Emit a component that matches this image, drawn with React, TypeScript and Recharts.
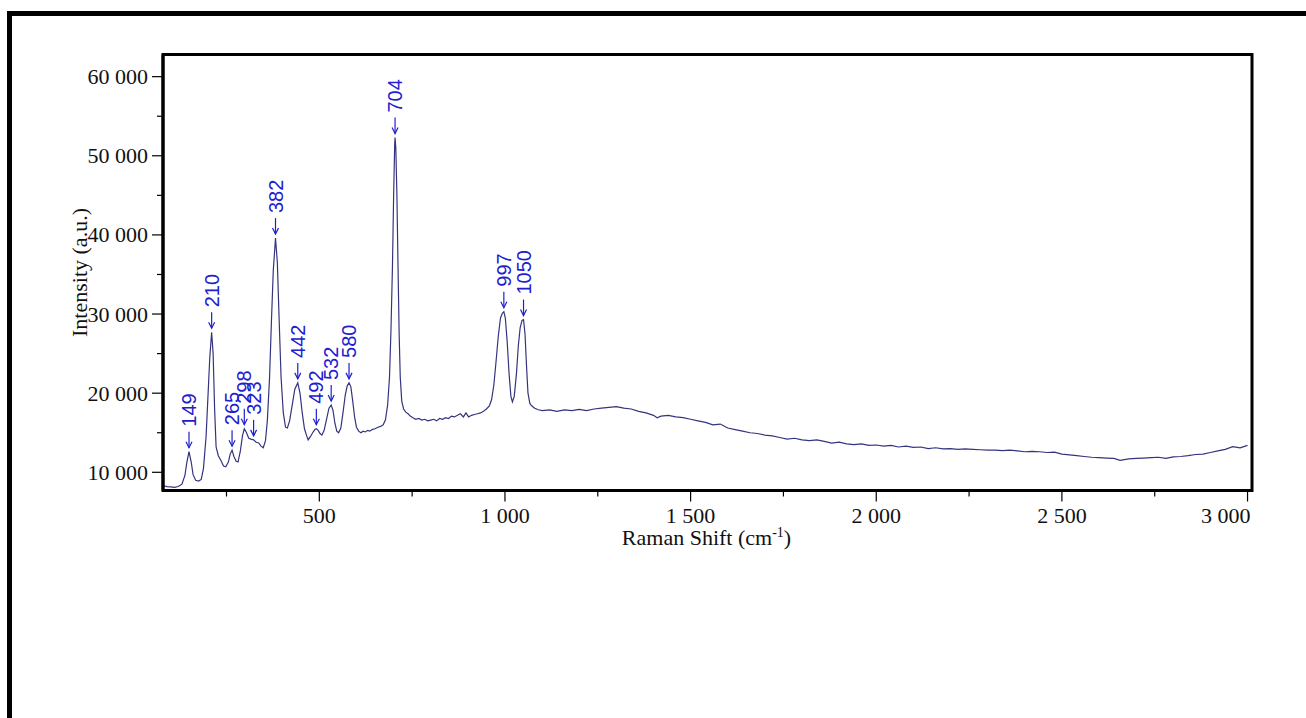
import React from 'react';
import { LineChart, Line, XAxis, YAxis, ReferenceDot, ReferenceArea } from 'recharts';

// Raman spectrum, [shift (cm-1), intensity (a.u.)]
const lowShiftBand: [number, number][] = [
  [80, 8300], [90, 8200], [100, 8150], [110, 8100], [120, 8200], [130, 8500], [138, 9600],
  [143, 11200], [149, 12600], [155, 11300], [160, 9700], [167, 9000], [175, 8900], [182, 9100],
  [188, 10500], [195, 14500], [200, 19500], [205, 24500], [210, 27700], [214, 25000], [218, 18000],
  [222, 13200], [228, 12100], [235, 11500], [242, 10800], [248, 10700], [255, 11300], [260, 12300],
  [265, 12800], [270, 12000], [276, 11400], [281, 11300], [287, 12600], [293, 14600], [298, 15500],
  [303, 15100], [310, 14300], [316, 14200], [323, 14100], [330, 13800], [337, 13700], [343, 13300],
  [349, 13100], [355, 14000], [360, 16500], [366, 22000], [371, 29000], [376, 35500], [382, 39600],
  [387, 36500], [392, 29000], [397, 22000],
];

const midShiftBand: [number, number][] = [
  [403, 17500], [409, 15700], [414, 15600], [420, 16500], [427, 18500], [434, 20500], [442, 21300],
  [448, 20000], [454, 17500], [460, 15500], [466, 14600], [470, 14100], [476, 14500], [482, 15000],
  [488, 15400], [492, 15500], [497, 15300], [502, 14900], [507, 14700], [513, 15300], [520, 16800],
  [526, 18100], [532, 18500], [537, 17800], [542, 16200], [547, 15200], [552, 15000], [558, 15600],
  [564, 17600], [570, 19800], [575, 20900], [580, 21300], [585, 20800], [590, 19000], [595, 17000],
  [600, 15700], [606, 15200], [612, 15000], [618, 15200], [624, 15100], [630, 15300], [636, 15200],
  [642, 15400], [650, 15500], [658, 15700], [665, 15800], [672, 16000], [678, 16600], [684, 18500],
  [689, 22000], [693, 28000], [697, 36000], [700, 44500], [703, 51500], [704, 52300], [706, 51000],
  [709, 45000], [712, 36000], [715, 27500], [718, 22000], [722, 19000], [727, 18000], [733, 17600],
  [739, 17400], [745, 17100], [752, 16900],
];

const phosphateBand: [number, number][] = [
  [760, 16700], [768, 16800], [776, 16600], [784, 16700], [792, 16500], [800, 16600], [808, 16700],
  [816, 16500], [824, 16800], [832, 16700], [840, 16900], [848, 16800], [856, 17100], [864, 17000],
  [872, 17200], [880, 17400], [888, 17000], [895, 17500], [902, 17000], [910, 17200], [918, 17300],
  [926, 17400], [934, 17500], [942, 17700], [950, 18000], [958, 18400], [964, 19200], [970, 21000],
  [976, 24000], [982, 27200], [988, 29500], [993, 30100], [997, 30300], [1001, 29500], [1006, 26500],
  [1011, 22500], [1016, 19600], [1020, 18900], [1025, 19600], [1031, 22500], [1036, 26000],
  [1041, 28300], [1046, 29200], [1050, 29300], [1054, 27500], [1058, 23500], [1062, 20000],
  [1067, 18700], [1072, 18400], [1080, 18100], [1090, 17900], [1100, 17800],
];

const highShiftTail: [number, number][] = [
  [1120, 17900], [1140, 17700], [1160, 17900], [1180, 17800], [1200, 17950], [1220, 17800],
  [1240, 18000], [1260, 18100], [1280, 18200], [1300, 18300], [1320, 18100], [1340, 18000],
  [1360, 17700], [1380, 17500], [1400, 17200], [1410, 16900], [1420, 17100], [1440, 17200],
  [1460, 17000], [1480, 16900], [1500, 16700], [1520, 16500], [1540, 16300], [1560, 16000],
  [1580, 16100], [1600, 15600], [1620, 15400], [1640, 15200], [1660, 15000], [1680, 14900],
  [1700, 14700], [1720, 14600], [1740, 14400], [1760, 14200], [1780, 14300], [1800, 14100],
  [1820, 14000], [1840, 14100], [1860, 13900], [1880, 13700], [1900, 13800], [1920, 13600],
  [1940, 13500], [1960, 13600], [1980, 13400], [2000, 13450], [2020, 13300], [2040, 13400],
  [2060, 13200], [2080, 13300], [2100, 13150], [2120, 13200], [2140, 13000], [2160, 13100],
  [2180, 12950], [2200, 13000], [2220, 12900], [2240, 12950], [2260, 12900], [2280, 12850],
  [2300, 12800], [2320, 12800], [2340, 12750], [2360, 12800], [2380, 12700], [2400, 12600],
  [2420, 12650], [2440, 12600], [2460, 12500], [2480, 12550], [2500, 12300], [2520, 12200],
  [2540, 12100], [2560, 12000], [2580, 11900], [2600, 11850], [2620, 11800], [2640, 11750],
  [2657, 11500], [2680, 11700], [2700, 11750], [2720, 11800], [2740, 11850], [2760, 11900],
  [2780, 11750], [2800, 11950], [2820, 12000], [2840, 12100], [2860, 12250], [2880, 12300],
  [2900, 12500], [2920, 12700], [2940, 12900], [2960, 13250], [2980, 13100], [3000, 13400],
];

const peakShifts = [149, 210, 265, 298, 323, 382, 442, 492, 532, 580, 704, 997, 1050];

const xTicks = [250, 500, 750, 1000, 1250, 1500, 1750, 2000, 2250, 2500, 2750, 3000];
const yTicks = [10000, 15000, 20000, 25000, 30000, 35000, 40000, 45000, 50000, 55000, 60000];

const spectrum = [...lowShiftBand, ...midShiftBand, ...phosphateBand, ...highShiftTail].map(
  ([shift, intensity]) => ({ shift, intensity })
);

const peaks = peakShifts.map((shift) => ({
  shift,
  intensity: spectrum.find((p) => p.shift === shift)?.intensity ?? 0,
}));

const SERIF = '"Liberation Serif", "Times New Roman", serif';
const SANS = '"Liberation Sans", Arial, sans-serif';
const LABEL_BLUE = '#2020d0';

// "10 000" style numbers
const fmt = (n: number) =>
  n >= 1000 ? `${Math.floor(n / 1000)} ${String(n % 1000).padStart(3, '0')}` : String(n);

const XTick = (props: any) => {
  const { x, y, payload } = props;
  const v = payload.value as number;
  const major = v % 500 === 0;
  return (
    <g>
      <line x1={x} y1={y} x2={x} y2={y + (major ? 11 : 6)} stroke="#000" strokeWidth={1.2} />
      {major && (
        <text
          x={v === 3000 ? x + 3 : x}
          y={y + 32}
          textAnchor={v === 3000 ? 'end' : 'middle'}
          fontFamily={SERIF}
          fontSize={22}
          fill="#111"
        >
          {fmt(v)}
        </text>
      )}
    </g>
  );
};

const YTick = (props: any) => {
  const { x, y, payload } = props;
  const v = payload.value as number;
  const major = v % 10000 === 0;
  return (
    <g>
      <line x1={x - (major ? 11 : 6)} y1={y} x2={x} y2={y} stroke="#000" strokeWidth={1.2} />
      {major && (
        <text
          x={x - 15}
          y={y}
          textAnchor="end"
          dominantBaseline="central"
          fontFamily={SERIF}
          fontSize={22}
          fill="#111"
        >
          {fmt(v)}
        </text>
      )}
    </g>
  );
};

// arrow + rotated shift label above each peak
const PeakMarker = (shift: number) => (props: any) => {
  const { cx, cy } = props;
  const tip = cy - 4;
  const top = tip - 16;
  return (
    <g>
      <line x1={cx} y1={top} x2={cx} y2={tip} stroke={LABEL_BLUE} strokeWidth={1.2} />
      <path d={`M${cx - 3},${tip - 6} L${cx},${tip} L${cx + 3},${tip - 6}`} fill="none" stroke={LABEL_BLUE} strokeWidth={1.2} />
      <text
        x={cx}
        y={top - 5}
        transform={`rotate(-90 ${cx} ${top - 5})`}
        textAnchor="start"
        dominantBaseline="central"
        fontFamily={SANS}
        fontSize={20}
        fill={LABEL_BLUE}
      >
        {shift}
      </text>
    </g>
  );
};

export default function App() {
  return (
    <div
      style={{
        position: 'absolute',
        left: 0,
        top: 0,
        width: 1306,
        height: 718,
        background: '#fff',
        overflow: 'hidden',
      }}
    >
      <div
        style={{
          position: 'absolute',
          left: 7,
          top: 11,
          width: 1400,
          height: 800,
          borderTop: '5px solid #000',
          borderLeft: '5px solid #000',
        }}
      />
      <div style={{ position: 'absolute', left: 0, top: 0 }}>
        <LineChart
          width={1306}
          height={718}
          data={spectrum}
          margin={{ top: 54.5, right: 54, bottom: 226.5, left: 162 }}
        >
          <XAxis
            dataKey="shift"
            type="number"
            domain={[79, 3012]}
            allowDataOverflow
            ticks={xTicks}
            interval={0}
            height={1}
            tickSize={0}
            tickMargin={0}
            tickLine={false}
            tick={<XTick />}
            axisLine={{ stroke: '#000', strokeWidth: 3 }}
            label={{
              content: (p: any) => {
                const vb = p.viewBox;
                return (
                  <text
                    x={vb.x + vb.width / 2 - 1}
                    y={vb.y + 54.5}
                    textAnchor="middle"
                    fontFamily={SERIF}
                    fontSize={22}
                    fill="#111"
                  >
                    Raman Shift (cm
                    <tspan dy={-8} fontSize={14}>-1</tspan>
                    <tspan dy={8}>)</tspan>
                  </text>
                );
              },
            }}
          />
          <YAxis
            type="number"
            domain={[7700, 62800]}
            allowDataOverflow
            ticks={yTicks}
            interval={0}
            width={1}
            tickSize={0}
            tickMargin={0}
            tickLine={false}
            tick={<YTick />}
            axisLine={{ stroke: '#000', strokeWidth: 3 }}
            label={{
              content: (p: any) => {
                const vb = p.viewBox;
                const cy = vb.y + vb.height / 2;
                return (
                  <text
                    x={87}
                    y={cy}
                    transform={`rotate(-90 87 ${cy})`}
                    textAnchor="middle"
                    fontFamily={SERIF}
                    fontSize={22}
                    fill="#111"
                  >
                    Intensity (a.u.)
                  </text>
                );
              },
            }}
          />
          <ReferenceArea
            x1={79}
            x2={3012}
            y1={7700}
            y2={62800}
            fill="none"
            stroke="#000"
            strokeWidth={3}
            ifOverflow="visible"
          />
          <Line
            type="linear"
            dataKey="intensity"
            stroke="#34347e"
            strokeWidth={1.2}
            dot={false}
            isAnimationActive={false}
          />
          {peaks.map((p) => (
            <ReferenceDot
              key={p.shift}
              x={p.shift}
              y={p.intensity}
              r={0}
              ifOverflow="visible"
              shape={PeakMarker(p.shift)}
            />
          ))}
        </LineChart>
      </div>
    </div>
  );
}
